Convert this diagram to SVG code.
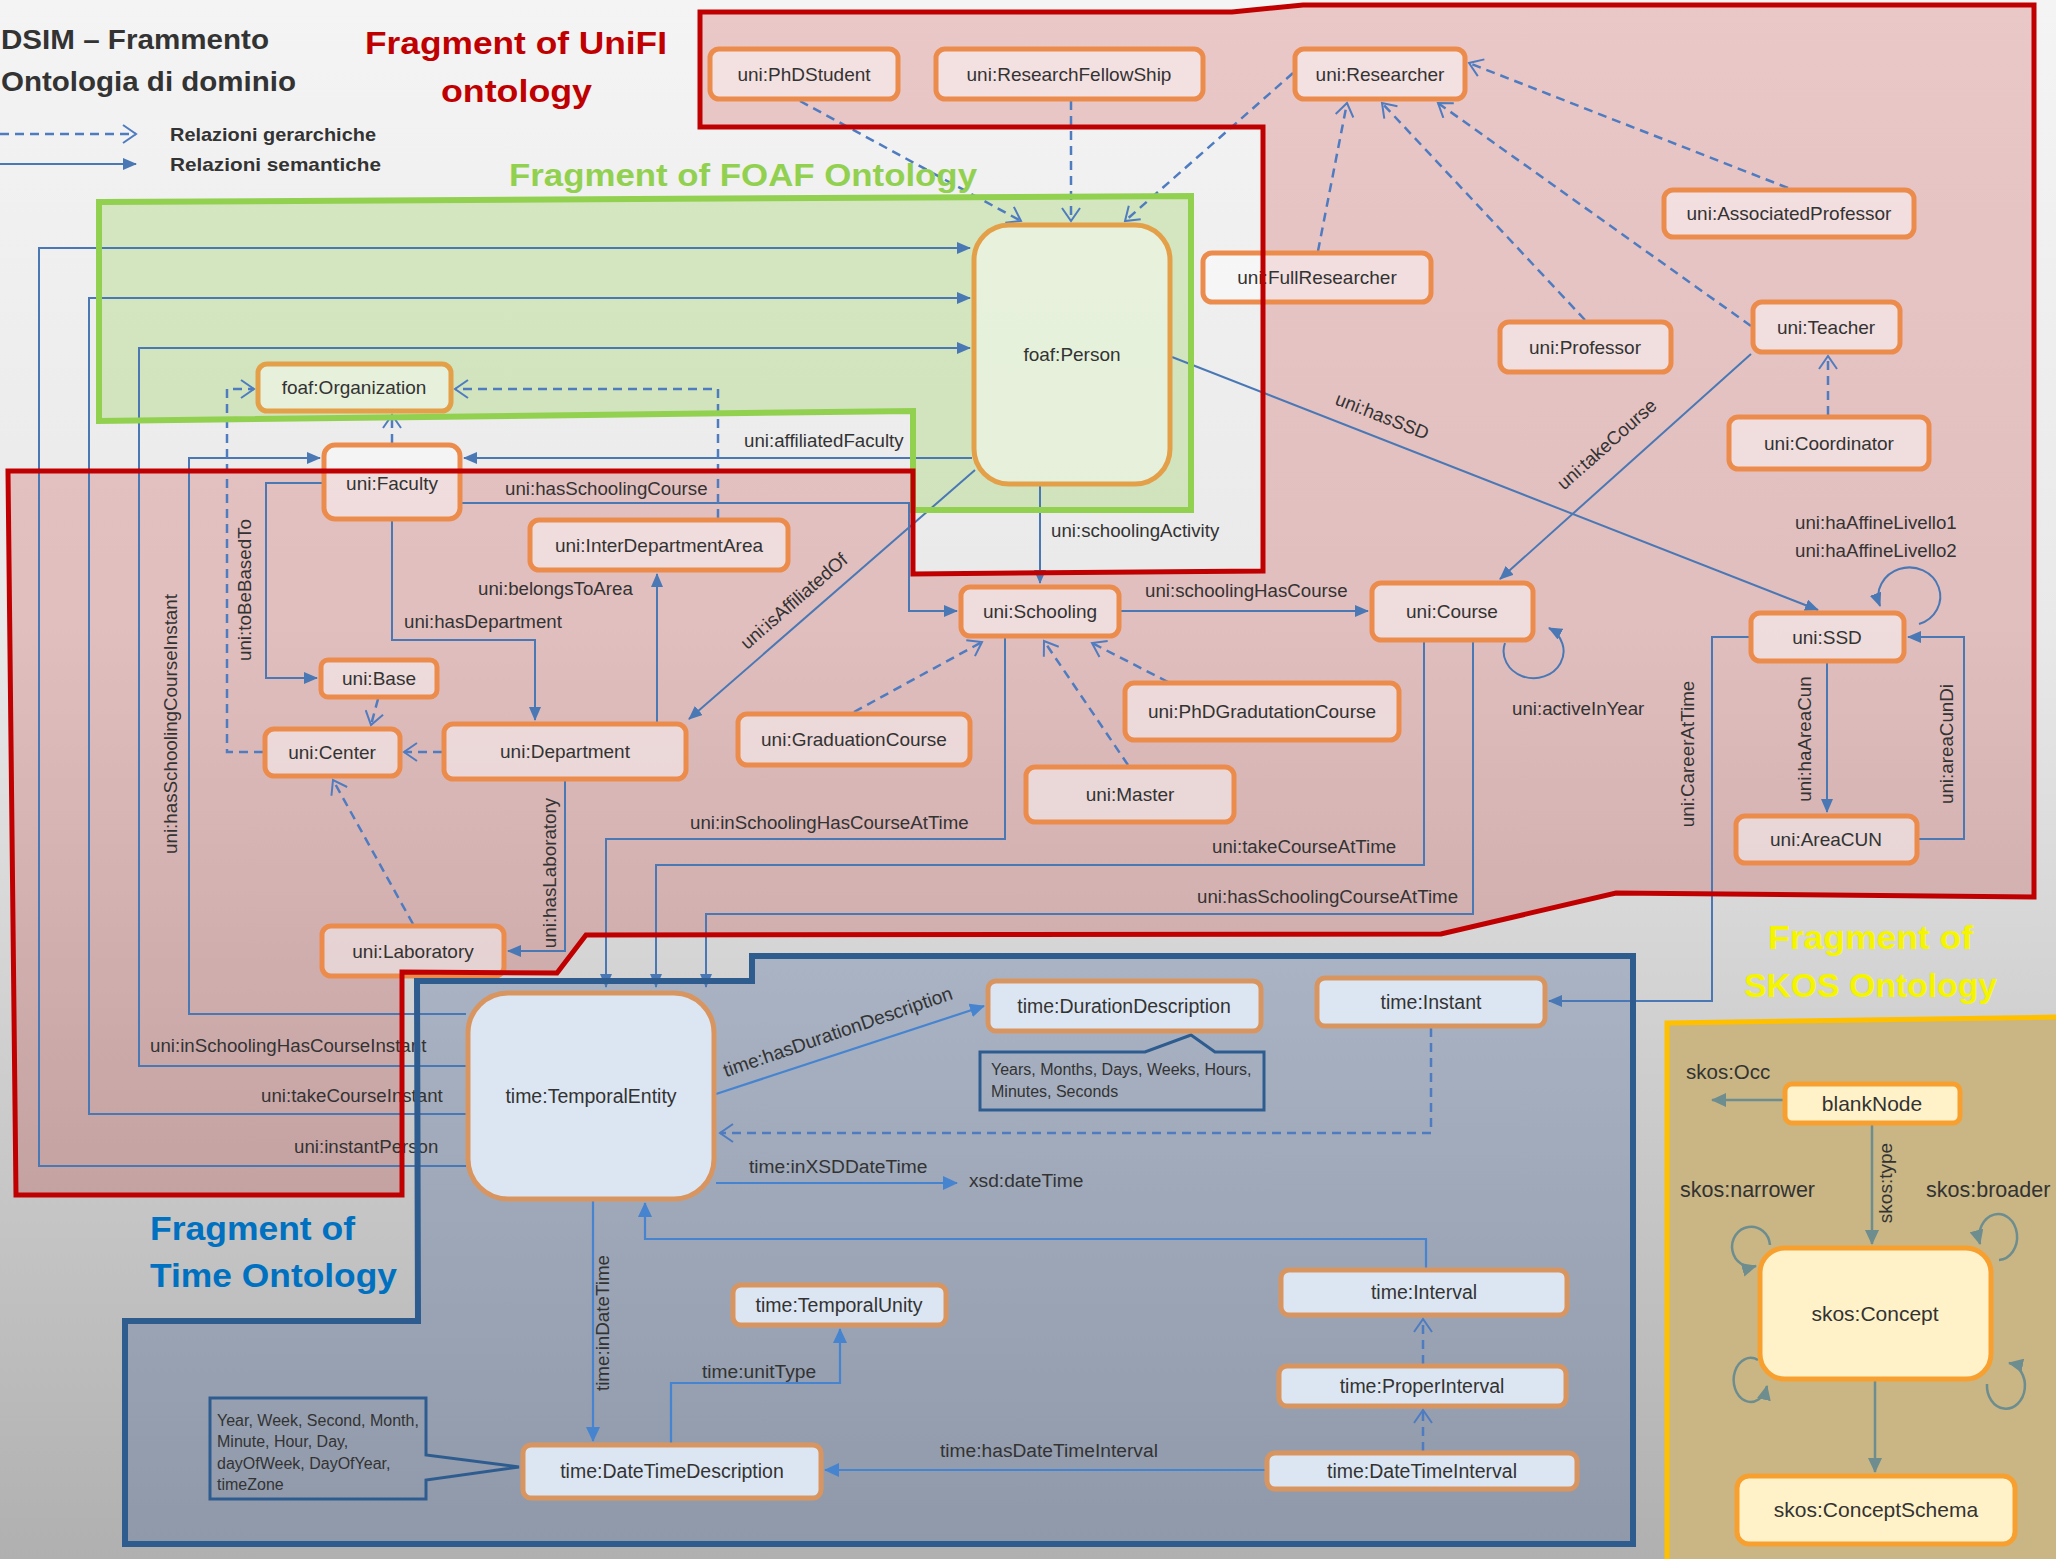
<svg xmlns="http://www.w3.org/2000/svg" width="2056" height="1559" viewBox="0 0 2056 1559">
<defs>
<linearGradient id="bg" x1="0" y1="0" x2="0" y2="1">
<stop offset="0" stop-color="#f4f4f4"/>
<stop offset="0.4" stop-color="#e9e9e9"/>
<stop offset="0.62" stop-color="#d4d4d4"/>
<stop offset="1" stop-color="#b0b0b0"/>
</linearGradient>
<polygon id="pUni" points="700,12 1232,12 1303,5 2034,5 2034,897 1616,893 1441,934 586,935 557,973 402,972 402,1195 16,1195 8,471 913,471 913,574 1263,571 1263,127 700,127"/>
<polygon id="pFoaf" points="99,202 1191,196 1191,510 913,510 913,411 99,421"/>
<polygon id="pTime" points="417,981 752,981 752,956 1633,956 1633,1544 125,1544 125,1321 418,1321"/>
<polygon id="pSkos" points="1667,1023 2062,1017 2062,1565 1667,1565"/>
<marker id="ah" markerUnits="userSpaceOnUse" markerWidth="14" markerHeight="12" refX="13" refY="6" orient="auto"><path d="M0,0 L14,6 L0,12 Z" fill="#4a78b5"/></marker>
<marker id="ahT" markerUnits="userSpaceOnUse" markerWidth="15" markerHeight="14" refX="14" refY="7" orient="auto"><path d="M0,0 L15,7 L0,14 Z" fill="#4784d0"/></marker>
<marker id="ahS" markerUnits="userSpaceOnUse" markerWidth="15" markerHeight="14" refX="14" refY="7" orient="auto"><path d="M0,0 L15,7 L0,14 Z" fill="#6e8d8f"/></marker>
<marker id="ch" markerUnits="userSpaceOnUse" markerWidth="16" markerHeight="20" refX="14" refY="10" orient="auto"><path d="M1,1 L14,10 L1,19" fill="none" stroke="#4f7cc0" stroke-width="2"/></marker>
</defs>
<style>
text{font-family:'Liberation Sans',Arial,sans-serif;fill:#333}
.n rect{fill:#ffffff;fill-opacity:0.45;stroke:#ec8c4c;stroke-width:5}
.n text{font-size:19px;text-anchor:middle}
.t rect{fill:#dce6f2;stroke:#d99560;stroke-width:5}
.t text{font-size:19.5px;text-anchor:middle}
.s rect{fill:#fff2c8;stroke:#f7a030;stroke-width:5}
.s text{font-size:21px;text-anchor:middle}
.sem{fill:none;stroke:#4a78b5;stroke-width:2;marker-end:url(#ah)}
.semT{fill:none;stroke:#4784d0;stroke-width:2.2;marker-end:url(#ahT)}
.hier{fill:none;stroke:#4f7cc0;stroke-width:2.5;stroke-dasharray:9 6;marker-end:url(#ch)}
.sk{fill:none;stroke:#6e8d8f;stroke-width:2.5;marker-end:url(#ahS)}
.el{font-size:18.7px}
.elT{font-size:19.2px}
.vl{font-size:18.8px;text-anchor:middle}
.call{fill:none;stroke:#2e5c8f;stroke-width:3}
.ct{font-size:16px}
.sl{font-size:21.5px}
</style>

<rect x="0" y="0" width="2056" height="1559" fill="url(#bg)"/>

<g id="region-fills">
<use href="#pTime" fill="#2f5596" fill-opacity="0.26"/>
<use href="#pSkos" fill="#c9b684"/>
<use href="#pFoaf" fill="#92d050" fill-opacity="0.3"/>
<use href="#pUni" fill="#c00000" fill-opacity="0.18"/>
</g>

<g id="legend">
<path d="M0,134 H136" fill="none" stroke="#4f7cc0" stroke-width="2.5" stroke-dasharray="9 6" marker-end="url(#ch)"/>
<path d="M0,164 H136" class="sem"/>
<text x="170" y="141" font-size="19" font-weight="bold" textLength="206" lengthAdjust="spacingAndGlyphs" fill="#111">Relazioni gerarchiche</text>
<text x="170" y="171" font-size="19" font-weight="bold" textLength="211" lengthAdjust="spacingAndGlyphs" fill="#111">Relazioni  semantiche</text>
</g>

<g id="title">
<text x="1" y="49" font-size="28" font-weight="bold" textLength="268" lengthAdjust="spacingAndGlyphs" fill="#111">DSIM – Frammento</text>
<text x="1" y="91" font-size="28" font-weight="bold" textLength="295" lengthAdjust="spacingAndGlyphs" fill="#111">Ontologia di dominio</text>
</g>

<g id="connectors">
<path class="sem" d="M466,1166 H39 V248 H970"/>
<path class="sem" d="M466,1114 H89 V298 H970"/>
<path class="sem" d="M466,1066 H139 V348 H970"/>
<path class="sem" d="M466,1014 H189 V458 H320"/>
<path class="sem" d="M972,458 H464"/>
<path class="sem" d="M462,503 H909 V611 H957"/>
<path class="sem" d="M322,483 H266 V678 H317"/>
<path class="sem" d="M392,521 V640 H535 V720"/>
<path class="sem" d="M657,722 V574"/>
<path class="sem" d="M975,470 L689,719"/>
<path class="sem" d="M565,781 V951 H508"/>
<path class="sem" d="M1040,486 V583"/>
<path class="sem" d="M1121,611 H1368"/>
<path class="sem" d="M1751,354 L1500,579"/>
<path class="sem" d="M1172,357 L1818,610"/>
<path class="sem" d="M1505,643 A30,27 0 1 0 1549,628"/>
<path class="sem" d="M1919,624 A31,29 0 1 0 1880,606"/>
<path class="sem" d="M1827,663 V812"/>
<path class="sem" d="M1919,839 H1964 V637 H1908"/>
<path class="sem" d="M1749,637 H1712 V1001 H1549"/>
<path class="sem" d="M1005,638 V839 H606 V987"/>
<path class="sem" d="M1424,642 V865 H656 V987"/>
<path class="sem" d="M1473,642 V914 H706 V987"/>
<path class="semT" d="M716,1094 L984,1006"/>
<path class="semT" d="M716,1183 H957"/>
<path class="semT" d="M1426,1268 V1239 H645 V1203"/>
<path class="semT" d="M593,1201 V1441"/>
<path class="semT" d="M671,1443 V1383 H840 V1329"/>
<path class="semT" d="M1265,1470 H825"/>
<path class="hier" d="M800,101 L1021,221"/>
<path class="hier" d="M1071,101 V221"/>
<path class="hier" d="M1293,73 L1125,221"/>
<path class="hier" d="M1318,251 L1347,103"/>
<path class="hier" d="M1585,320 L1382,103"/>
<path class="hier" d="M1751,326 L1438,103"/>
<path class="hier" d="M1788,188 L1469,63"/>
<path class="hier" d="M1828,415 V356"/>
<path class="hier" d="M392,443 V415"/>
<path class="hier" d="M718,518 V389 H455"/>
<path class="hier" d="M263,752 H227 V389 H254"/>
<path class="hier" d="M378,699 L371,725"/>
<path class="hier" d="M442,752 H404"/>
<path class="hier" d="M413,924 L333,780"/>
<path class="hier" d="M854,712 L982,642"/>
<path class="hier" d="M1168,682 L1092,643"/>
<path class="hier" d="M1128,765 L1044,641"/>
<path class="hier" d="M1431,1028 V1133 H720"/>
<path class="hier" d="M1423,1364 V1319"/>
<path class="hier" d="M1423,1451 V1410"/>
<path class="sk" d="M1783,1100 H1712"/>
<path class="sk" d="M1872,1125 V1244"/>
<path class="sk" d="M1875,1381 V1472"/>
<path class="sk" d="M1770,1245 A19,20 0 1 0 1756,1266"/>
<path class="sk" d="M1758,1360 A17,22 0 1 0 1767,1386"/>
<path class="sk" d="M1999,1260 A19,23 0 1 0 1980,1244"/>
<path class="sk" d="M1987,1384 A19,23 0 1 0 2009,1363"/>
<path class="call" d="M980,1052 H1145 L1191,1035 L1215,1052 H1264 V1110 H980 Z"/>
<path class="call" d="M210,1398 H426 V1455 L519,1467 L426,1480 V1499 H210 Z"/>
</g>

<g id="connector-labels">
<text class="el" x="294" y="1153">uni:instantPerson</text>
<text class="el" x="261" y="1102">uni:takeCourseInstant</text>
<text class="el" x="150" y="1052">uni:inSchoolingHasCourseInstant</text>
<text class="vl" x="177" y="724" transform="rotate(-90 177 724)">uni:hasSchoolingCourseInstant</text>
<text class="el" x="744" y="447">uni:affiliatedFaculty</text>
<text class="el" x="505" y="495">uni:hasSchoolingCourse</text>
<text class="vl" x="251" y="590" transform="rotate(-90 251 590)">uni:toBeBasedTo</text>
<text class="el" x="404" y="628">uni:hasDepartment</text>
<text class="el" x="478" y="595">uni:belongsToArea</text>
<text class="el" x="798" y="606" text-anchor="middle" transform="rotate(-41 798 606)">uni:isAffiliatedOf</text>
<text class="vl" x="556" y="873" transform="rotate(-90 556 873)">uni:hasLaboratory</text>
<text class="el" x="1051" y="537">uni:schoolingActivity</text>
<text class="el" x="1145" y="597">uni:schoolingHasCourse</text>
<text class="el" x="1611" y="449" text-anchor="middle" transform="rotate(-41.6 1611 449)">uni:takeCourse</text>
<text class="el" x="1380" y="422" text-anchor="middle" transform="rotate(21.4 1380 422)">uni:hasSSD</text>
<text class="el" x="1512" y="715">uni:activeInYear</text>
<text class="el" x="1795" y="529">uni:haAffineLivello1</text>
<text class="el" x="1795" y="557">uni:haAffineLivello2</text>
<text class="vl" x="1811" y="739" transform="rotate(-90 1811 739)">uni:haAreaCun</text>
<text class="vl" x="1953" y="744" transform="rotate(-90 1953 744)">uni:areaCunDi</text>
<text class="vl" x="1694" y="754" transform="rotate(-90 1694 754)">uni:CareerAtTime</text>
<text class="el" x="690" y="829">uni:inSchoolingHasCourseAtTime</text>
<text class="el" x="1212" y="853">uni:takeCourseAtTime</text>
<text class="el" x="1197" y="903">uni:hasSchoolingCourseAtTime</text>
<text class="elT" x="840" y="1038" text-anchor="middle" transform="rotate(-19 840 1038)">time:hasDurationDescription</text>
<text class="elT" x="749" y="1173">time:inXSDDateTime</text>
<text class="elT" x="969" y="1187">xsd:dateTime</text>
<text class="vl" x="609" y="1323" transform="rotate(-90 609 1323)">time:inDateTime</text>
<text class="elT" x="702" y="1378">time:unitType</text>
<text class="elT" x="940" y="1457">time:hasDateTimeInterval</text>
<text class="ct" x="991" y="1075">Years, Months, Days, Weeks, Hours,</text>
<text class="ct" x="991" y="1097">Minutes, Seconds</text>
<text class="ct" x="217" y="1426">Year, Week, Second, Month,</text>
<text class="ct" x="217" y="1447">Minute, Hour, Day,</text>
<text class="ct" x="217" y="1469">dayOfWeek, DayOfYear,</text>
<text class="ct" x="217" y="1490">timeZone</text>
<text class="sl" x="1686" y="1079" style="font-size:20.5px">skos:Occ</text>
<text class="sl" x="1680" y="1197">skos:narrower</text>
<text class="sl" x="1926" y="1197">skos:broader</text>
<text x="1892" y="1183" font-size="19" text-anchor="middle" transform="rotate(-90 1892 1183)">skos:type</text>
</g>

<g id="n-phdstudent" class="n"><rect x="710" y="49" width="188" height="50" rx="9"/><text x="804" y="81">uni:PhDStudent</text></g>
<g id="n-researchfellowship" class="n"><rect x="936" y="49" width="267" height="50" rx="9"/><text x="1069" y="81">uni:ResearchFellowShip</text></g>
<g id="n-researcher" class="n"><rect x="1295" y="49" width="170" height="50" rx="9"/><text x="1380" y="81">uni:Researcher</text></g>
<g id="n-associatedprofessor" class="n"><rect x="1664" y="190" width="250" height="47" rx="9"/><text x="1789" y="220">uni:AssociatedProfessor</text></g>
<g id="n-fullresearcher" class="n"><rect x="1203" y="253" width="228" height="49" rx="9"/><text x="1317" y="284">uni:FullResearcher</text></g>
<g id="n-professor" class="n"><rect x="1500" y="322" width="171" height="50" rx="9"/><text x="1585" y="354">uni:Professor</text></g>
<g id="n-teacher" class="n"><rect x="1753" y="302" width="147" height="50" rx="9"/><text x="1826" y="334">uni:Teacher</text></g>
<g id="n-coordinator" class="n"><rect x="1729" y="417" width="200" height="52" rx="9"/><text x="1829" y="450">uni:Coordinator</text></g>
<g id="n-person" class="n"><rect x="974" y="225" width="196" height="259" rx="35" style="stroke:#e3a049"/><text x="1072" y="361">foaf:Person</text></g>
<g id="n-organization" class="n"><rect x="258" y="364" width="193" height="47" rx="9" style="stroke:#e3a049"/><text x="354" y="394">foaf:Organization</text></g>
<g id="n-faculty" class="n"><rect x="324" y="445" width="136" height="74" rx="11"/><text x="392" y="490">uni:Faculty</text></g>
<g id="n-interdepartmentarea" class="n"><rect x="530" y="520" width="258" height="50" rx="9"/><text x="659" y="552">uni:InterDepartmentArea</text></g>
<g id="n-base" class="n"><rect x="321" y="660" width="116" height="37" rx="7"/><text x="379" y="685">uni:Base</text></g>
<g id="n-center" class="n"><rect x="265" y="729" width="135" height="47" rx="9"/><text x="332" y="759">uni:Center</text></g>
<g id="n-department" class="n"><rect x="444" y="724" width="242" height="55" rx="9"/><text x="565" y="758">uni:Department</text></g>
<g id="n-graduationcourse" class="n"><rect x="738" y="714" width="232" height="51" rx="9"/><text x="854" y="746">uni:GraduationCourse</text></g>
<g id="n-laboratory" class="n"><rect x="322" y="926" width="182" height="50" rx="9"/><text x="413" y="958">uni:Laboratory</text></g>
<g id="n-schooling" class="n"><rect x="961" y="587" width="158" height="49" rx="9"/><text x="1040" y="618">uni:Schooling</text></g>
<g id="n-course" class="n"><rect x="1372" y="583" width="161" height="57" rx="9"/><text x="1452" y="618">uni:Course</text></g>
<g id="n-phdgradutationcourse" class="n"><rect x="1125" y="683" width="274" height="57" rx="9"/><text x="1262" y="718">uni:PhDGradutationCourse</text></g>
<g id="n-master" class="n"><rect x="1026" y="767" width="208" height="55" rx="9"/><text x="1130" y="801">uni:Master</text></g>
<g id="n-ssd" class="n"><rect x="1751" y="613" width="153" height="48" rx="9"/><text x="1827" y="644">uni:SSD</text></g>
<g id="n-areacun" class="n"><rect x="1736" y="816" width="181" height="47" rx="9"/><text x="1826" y="846">uni:AreaCUN</text></g>

<g id="n-temporalentity" class="t"><rect x="468" y="993" width="246" height="206" rx="40"/><text x="591" y="1103">time:TemporalEntity</text></g>
<g id="n-durationdescription" class="t"><rect x="988" y="981" width="273" height="50" rx="8"/><text x="1124" y="1013">time:DurationDescription</text></g>
<g id="n-instant" class="t"><rect x="1317" y="978" width="228" height="48" rx="8"/><text x="1431" y="1009">time:Instant</text></g>
<g id="n-interval" class="t"><rect x="1281" y="1270" width="286" height="45" rx="8"/><text x="1424" y="1299">time:Interval</text></g>
<g id="n-properinterval" class="t"><rect x="1279" y="1366" width="287" height="40" rx="8"/><text x="1422" y="1393">time:ProperInterval</text></g>
<g id="n-datetimeinterval" class="t"><rect x="1267" y="1453" width="310" height="36" rx="8"/><text x="1422" y="1478">time:DateTimeInterval</text></g>
<g id="n-temporalunity" class="t"><rect x="733" y="1285" width="213" height="40" rx="8"/><text x="839" y="1312">time:TemporalUnity</text></g>
<g id="n-datetimedescription" class="t"><rect x="523" y="1445" width="298" height="53" rx="8"/><text x="672" y="1478">time:DateTimeDescription</text></g>

<g id="n-blanknode" class="s"><rect x="1785" y="1084" width="175" height="39" rx="7"/><text x="1872" y="1111">blankNode</text></g>
<g id="n-concept" class="s"><rect x="1760" y="1248" width="231" height="131" rx="25"/><text x="1875" y="1321">skos:Concept</text></g>
<g id="n-conceptschema" class="s"><rect x="1737" y="1476" width="278" height="68" rx="12"/><text x="1876" y="1517">skos:ConceptSchema</text></g>

<g id="region-outlines" fill="none">
<use href="#pTime" stroke="#2e5c8f" stroke-width="6"/>
<use href="#pSkos" stroke="#ffc000" stroke-width="5"/>
<use href="#pFoaf" stroke="#92d050" stroke-width="6"/>
<use href="#pUni" stroke="#c00000" stroke-width="5"/>
</g>

<g id="region-titles">
<text x="365" y="54" font-size="31" font-weight="bold" textLength="302" lengthAdjust="spacingAndGlyphs" style="fill:#c00000">Fragment of UniFI</text>
<text x="441" y="102" font-size="31" font-weight="bold" textLength="151" lengthAdjust="spacingAndGlyphs" style="fill:#c00000">ontology</text>
<text x="509" y="186" font-size="31" font-weight="bold" textLength="468" lengthAdjust="spacingAndGlyphs" style="fill:#92d050">Fragment of FOAF Ontology</text>
<text x="150" y="1240" font-size="34" font-weight="bold" textLength="205" lengthAdjust="spacingAndGlyphs" style="fill:#0070c0">Fragment of</text>
<text x="150" y="1287" font-size="34" font-weight="bold" textLength="247" lengthAdjust="spacingAndGlyphs" style="fill:#0070c0">Time Ontology</text>
<text x="1768" y="949" font-size="34" font-weight="bold" textLength="205" lengthAdjust="spacingAndGlyphs" style="fill:#f5f500">Fragment of</text>
<text x="1744" y="997" font-size="34" font-weight="bold" textLength="253" lengthAdjust="spacingAndGlyphs" style="fill:#f5f500">SKOS Ontology</text>
</g>
</svg>
